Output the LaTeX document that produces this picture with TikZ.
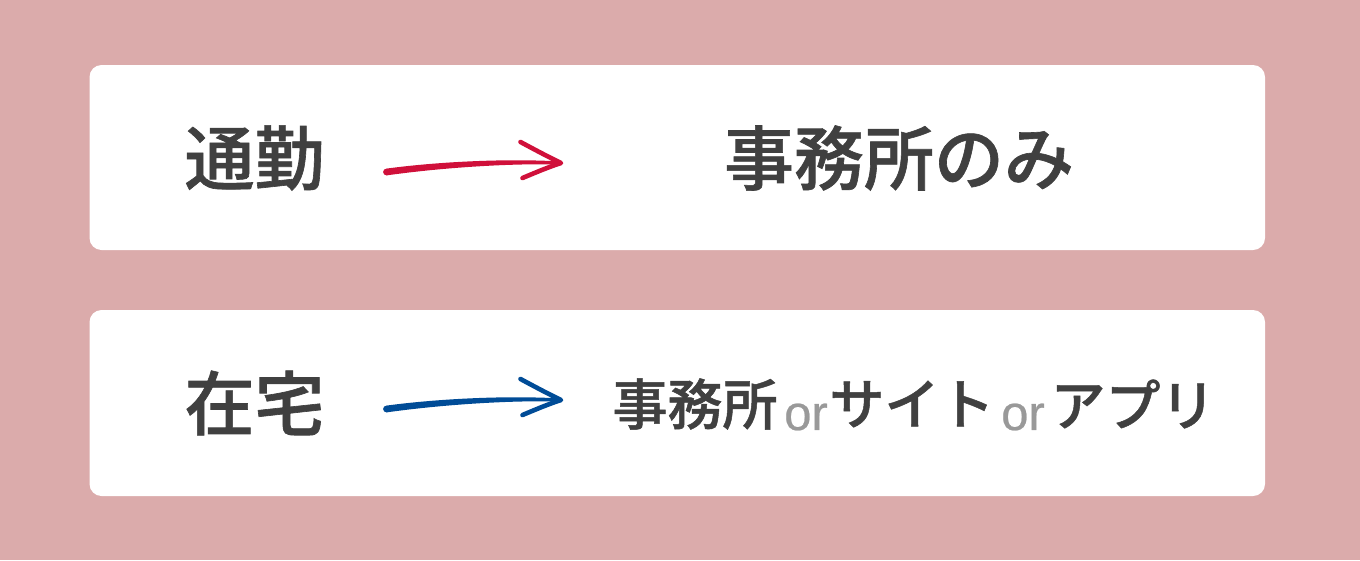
\documentclass[tikz,border=0pt]{standalone}
\usepackage{fontspec}
\setmainfont{Noto Sans CJK JP Medium}[FakeBold=0.9]
\newfontfamily\orfont[FakeBold=0.5]{Liberation Sans}
\definecolor{bgpink}{HTML}{DBABAB}
\definecolor{inkgray}{HTML}{404040}
\definecolor{orgray}{HTML}{999999}
\definecolor{arrowred}{HTML}{D0103A}
\definecolor{arrowblue}{HTML}{004C97}
\tikzset{
  card/.style={fill=white, rounded corners=12pt},
  bigtext/.style={text=inkgray, font=\fontsize{70pt}{70pt}\selectfont, inner sep=0pt},
  smalltext/.style={text=inkgray, font=\fontsize{55pt}{55pt}\selectfont, inner sep=0pt},
  ortext/.style={text=orgray, font=\orfont\fontsize{49pt}{49pt}\selectfont, inner sep=0pt},
  pen/.style={line width=4.6pt, line cap=round, line join=round},
  sketcharrow/.pic={
    \fill (0,0) circle[radius=3.4];
    \fill (0,-3.4) .. controls (45,-9.5) and (115,-14) .. (174.5,-10.5)
      -- (174.5,-7.5) .. controls (115,-9) and (45,-3) .. (0,3.4) -- cycle;
    \draw[pen] (134,-30) .. controls (147,-23) and (162,-15) .. (174.5,-9)
      .. controls (162,-5) and (148,1) .. (136,6);
  }
}
\begin{document}
\begin{tikzpicture}[x=1pt,y=-1pt]
  \fill[bgpink] (0,0) rectangle (1360,560);
  \useasboundingbox (0,0) rectangle (1360,560);
  \fill[card] (89.5,65) rectangle (1265,250);
  \fill[card] (89.5,310) rectangle (1265,496);
  \node [bigtext] (commute) at (254.5,158) {通勤};
  \node [bigtext] (office) at (899,158) {事務所のみ};
  \node [bigtext] (home) at (254.5,403) {在宅};
  \node [smalltext] (officeb) at (695,404) {事務所};
  \node [ortext] (ora) at (806,417) {or};
  \node [smalltext] (site) at (912,404) {サイト};
  \node [ortext] (orb) at (1023,417) {or};
  \node [smalltext] (app) at (1133,404) {アプリ};
  \pic [arrowred, fill=arrowred] at (386.5,172) {sketcharrow};
  \pic [arrowblue, fill=arrowblue] at (386.5,409) {sketcharrow};
\end{tikzpicture}
\end{document}
